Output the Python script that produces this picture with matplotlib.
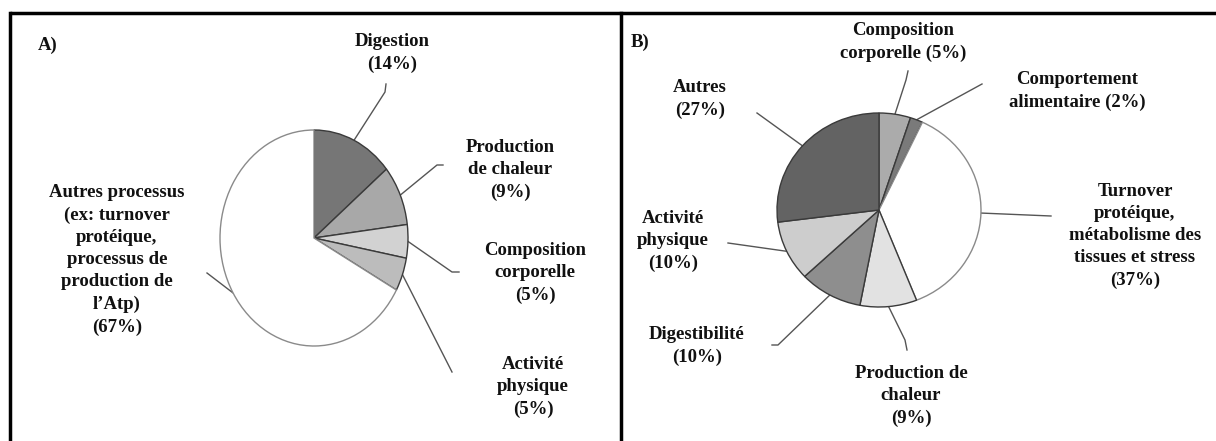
"""Two pie charts (A: energy partition, B: residual feed intake sources)."""
import matplotlib
matplotlib.use("Agg")
import matplotlib.pyplot as plt
import numpy as np

W, H = 1216, 441

# Panel A data (clockwise from top)
a_labels = ["Digestion\n(14%)", "Production\nde chaleur\n(9%)",
            "Composition\ncorporelle\n(5%)", "Activité\nphysique\n(5%)",
            "Autres processus\n(ex: turnover\nprotéique,\nprocessus de\nproduction de\nl\u2019Atp)\n(67%)"]
a_values = [14, 9, 5, 5, 67]
a_colors = ["#767676", "#a8a8a8", "#d2d2d2", "#bcbcbc", "#ffffff"]

# Panel B data (clockwise from top)
b_labels = ["Composition\ncorporelle (5%)", "Comportement\nalimentaire (2%)",
            "Turnover\nprotéique,\nmétabolisme des\ntissues et stress\n(37%)",
            "Production de\nchaleur\n(9%)", "Digestibilité\n(10%)",
            "Activité\nphysique\n(10%)", "Autres\n(27%)"]
b_values = [5, 2, 37, 9, 10, 10, 27]
b_colors = ["#ababab", "#7a7a7a", "#ffffff", "#e2e2e2", "#8e8e8e", "#cdcdcd", "#636363"]

# layout (pixels): pie centre / radii, label anchors, leader elbows
A_GEOM = dict(cx=314, cy=238, rx=94, ry=108)
B_GEOM = dict(cx=879, cy=210, rx=102, ry=97)
a_text_pos = [(392, 53), (510, 170), (535, 273), (533, 387), (117, 260)]
a_leaders = [[(385, 92), (386, 84)], [(437, 165), (443, 165)],
             [(452, 272), (459, 272)], [(452, 372)], [(207, 273)]]
b_text_pos = [(903, 42), (1077, 91), (1135, 236), (911, 396), (697, 346),
              (673, 241), (700, 99)]
b_leaders = [[(906, 80), (908, 71)], [(982, 84)], [(1051, 216)],
             [(905, 340), (907, 350)], [(778, 345), (772, 345)],
             [(728, 243)], [(757, 113)]]

FONT = dict(family="Liberation Serif", fontweight="bold", fontsize=13.5)

fig = plt.figure(figsize=(W / 100, H / 100), dpi=100)
over = fig.add_axes([0, 0, 1, 1])
over.set_xlim(0, W)
over.set_ylim(H, 0)
over.axis("off")


def draw_pie(values, colors, geom, leaders, text_pos, labels):
    cx, cy, rx, ry = geom["cx"], geom["cy"], geom["rx"], geom["ry"]
    ax = fig.add_axes([(cx - rx) / W, 1 - (cy + ry) / H, 2 * rx / W, 2 * ry / H])
    wedges, _ = ax.pie(values, colors=colors, startangle=90, counterclock=False,
                       radius=1, wedgeprops=dict(linewidth=1.0))
    for w, c in zip(wedges, colors):
        w.set_edgecolor("#8a8a8a" if c == "#ffffff" else "#3a3a3a")
    ax.set_aspect("auto")
    ax.set_xlim(-1, 1)
    ax.set_ylim(-1, 1)
    ax.axis("off")

    total = sum(values)
    cum = np.cumsum([0] + list(values))
    for i, v in enumerate(values):
        mid = np.deg2rad(90 - 360 * (cum[i] + v / 2) / total)
        x0, y0 = cx + rx * np.cos(mid), cy - ry * np.sin(mid)
        pts = [(x0, y0)] + leaders[i]
        over.plot([p[0] for p in pts], [p[1] for p in pts], color="#555555", lw=1.0)
        tx, ty = text_pos[i]
        over.text(tx, ty, labels[i], ha="center", va="center",
                  linespacing=1.4, color="#111111", **FONT)


draw_pie(a_values, a_colors, A_GEOM, a_leaders, a_text_pos, a_labels)
draw_pie(b_values, b_colors, B_GEOM, b_leaders, b_text_pos, b_labels)

# panel frames
over.plot([10, W], [13, 13], color="black", lw=2.5, solid_capstyle="butt")
over.plot([10, 10], [13, H], color="black", lw=2.5)
over.plot([621, 621], [13, H], color="black", lw=2.5)
over.text(48, 45, "A)", ha="center", va="center", color="#111111", **FONT)
over.text(640, 42, "B)", ha="center", va="center", color="#111111", **FONT)

fig.savefig("out.png", dpi=100)
